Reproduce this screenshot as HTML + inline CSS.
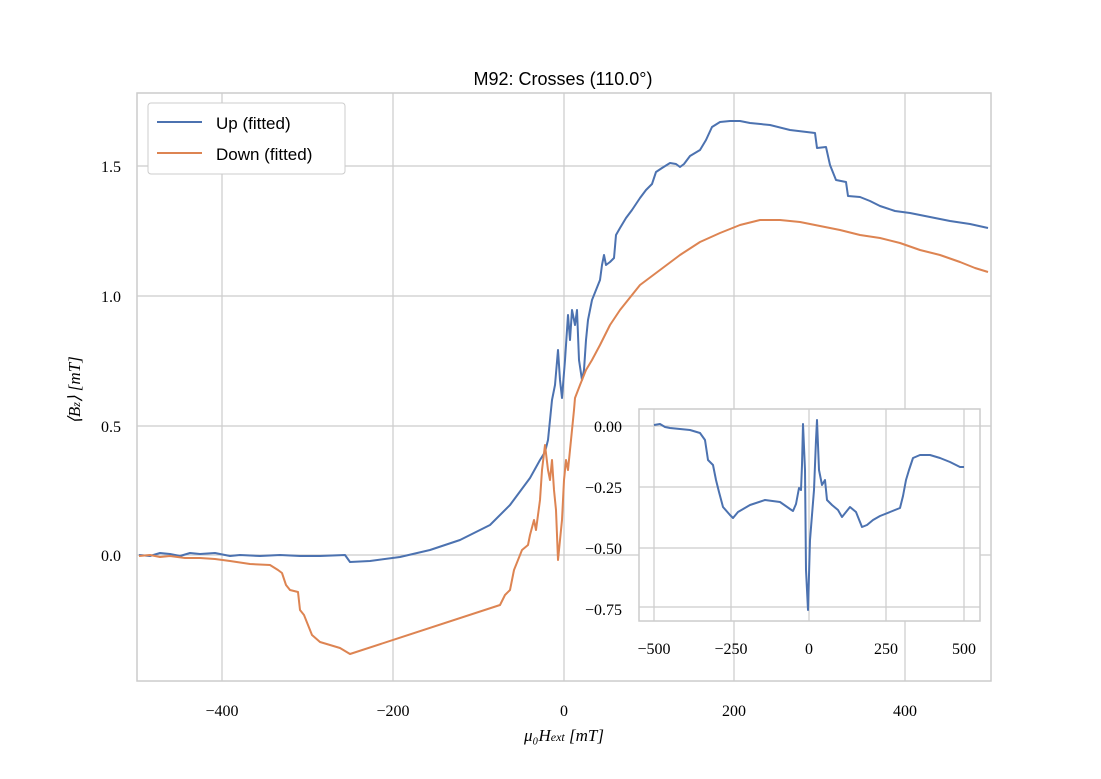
<!DOCTYPE html>
<html><head><style>body{margin:0;background:#fff}svg{display:block}</style></head><body>
<svg width="1101" height="779" viewBox="0 0 1101 779" xmlns="http://www.w3.org/2000/svg" font-family="Liberation Serif, serif" font-size="16">
<rect width="1101" height="779" fill="#fff"/>
<g stroke="#cccccc" stroke-width="1.2">
<line x1="222" y1="93" x2="222" y2="681"/><line x1="393" y1="93" x2="393" y2="681"/><line x1="564" y1="93" x2="564" y2="681"/><line x1="734" y1="93" x2="734" y2="681"/><line x1="905" y1="93" x2="905" y2="681"/>
<line x1="137" y1="555" x2="991" y2="555"/><line x1="137" y1="426" x2="991" y2="426"/><line x1="137" y1="296" x2="991" y2="296"/><line x1="137" y1="166" x2="991" y2="166"/>
</g>
<rect x="137" y="93" width="854" height="588" fill="none" stroke="#cccccc" stroke-width="1.5"/>
<polyline fill="none" stroke="#4c72b0" stroke-width="2" stroke-linejoin="round" points="139,555 150,556 160,553 170,554 180,556 190,553 200,554 215,553 230,556 240,555 260,556 280,555 300,556 320,556 345,555 350,562 370,561 400,557 430,550 460,540 490,525 510,505 530,478 540,460 545,452 548,440 550,420 552,400 555,385 558,350 560,380 562,398 565,360 568,315 570,340 572,310 575,325 577,310 579,360 582,380 584,370 586,340 588,320 592,300 596,290 600,280 602,265 604,255 606,265 610,262 614,258 616,235 620,228 626,218 632,210 640,198 646,190 652,184 656,172 662,168 670,163 676,164 680,167 684,164 690,156 700,150 706,140 712,127 720,122 730,121 740,121 750,123 770,125 790,130 815,133 817,148 826,147 830,165 834,175 836,180 846,182 848,196 860,197 870,201 880,206 895,211 910,213 930,217 950,221 970,224 988,228"/>
<polyline fill="none" stroke="#dd8452" stroke-width="2" stroke-linejoin="round" points="139,556 150,555 160,557 170,556 185,558 200,558 215,559 230,561 250,564 270,565 278,570 282,573 286,585 290,590 298,592 300,610 304,615 308,625 312,635 320,642 340,648 350,654 500,605 505,595 510,590 514,570 518,560 522,550 528,545 530,535 534,520 536,530 540,500 542,470 545,445 548,470 550,480 552,460 554,490 556,510 558,560 560,540 562,520 564,480 566,460 568,470 570,450 572,430 574,410 575,398 580,385 586,370 592,360 600,345 610,325 620,310 640,285 660,270 680,255 700,242 720,233 740,225 760,220 780,220 800,222 820,226 840,230 860,235 880,238 900,243 920,250 940,255 960,262 975,268 988,272"/>
<g fill="#000" text-anchor="middle">
<text x="222" y="716">−400</text><text x="393" y="716">−200</text><text x="564" y="716">0</text><text x="734" y="716">200</text><text x="905" y="716">400</text>
<text x="564" y="741" font-style="italic" font-size="17">μ₀H<tspan font-size="12">ext</tspan> [mT]</text>
</g>
<g fill="#000" text-anchor="end">
<text x="121" y="561">0.0</text><text x="121" y="432">0.5</text><text x="121" y="302">1.0</text><text x="121" y="172">1.5</text>
</g>
<text transform="translate(80,390) rotate(-90)" text-anchor="middle" fill="#000" font-style="italic" font-size="17">⟨B<tspan font-size="12">z</tspan>⟩ [mT]</text>
<text x="563" y="85" text-anchor="middle" font-family="Liberation Sans, sans-serif" font-size="18">M92: Crosses (110.0°)</text>
<rect x="148" y="103" width="197" height="71" rx="3" fill="#fff" stroke="#cccccc"/>
<line x1="157" y1="122" x2="202" y2="122" stroke="#4c72b0" stroke-width="2"/>
<line x1="157" y1="153" x2="202" y2="153" stroke="#dd8452" stroke-width="2"/>
<text x="216" y="129" font-family="Liberation Sans, sans-serif" font-size="17">Up (fitted)</text>
<text x="216" y="160" font-family="Liberation Sans, sans-serif" font-size="17">Down (fitted)</text>
<rect x="639" y="409" width="341" height="212" fill="#fff"/>
<g stroke="#cccccc" stroke-width="1.2">
<line x1="654" y1="409" x2="654" y2="621"/><line x1="731" y1="409" x2="731" y2="621"/><line x1="809" y1="409" x2="809" y2="621"/><line x1="886" y1="409" x2="886" y2="621"/><line x1="964" y1="409" x2="964" y2="621"/>
<line x1="639" y1="426" x2="980" y2="426"/><line x1="639" y1="487" x2="980" y2="487"/><line x1="639" y1="548" x2="980" y2="548"/><line x1="639" y1="607" x2="980" y2="607"/>
</g>
<rect x="639" y="409" width="341" height="212" fill="none" stroke="#cccccc" stroke-width="1.5"/>
<polyline fill="none" stroke="#4c72b0" stroke-width="2" stroke-linejoin="round" points="654,425 660,424 665,427 670,428 680,429 690,430 700,433 705,440 708,460 713,465 716,480 719,492 723,507 730,515 733,518 738,512 750,505 765,500 780,502 790,509 793,511 796,504 799,488 801,490 802,465 803,424 805,470 806,570 808,610 810,540 812,515 814,490 816,440 817,420 819,470 822,485 825,480 827,500 832,505 838,510 842,517 846,512 850,507 856,512 862,527 867,525 873,520 880,516 890,512 900,508 903,496 906,480 909,470 913,458 920,455 930,455 940,458 950,462 960,467 964,467"/>
<g fill="#000" text-anchor="end">
<text x="622" y="432">0.00</text><text x="622" y="493">−0.25</text><text x="622" y="554">−0.50</text><text x="622" y="615">−0.75</text>
</g>
<g fill="#000" text-anchor="middle">
<text x="654" y="654">−500</text><text x="731" y="654">−250</text><text x="809" y="654">0</text><text x="886" y="654">250</text><text x="964" y="654">500</text>
</g>
</svg>
</body></html>
